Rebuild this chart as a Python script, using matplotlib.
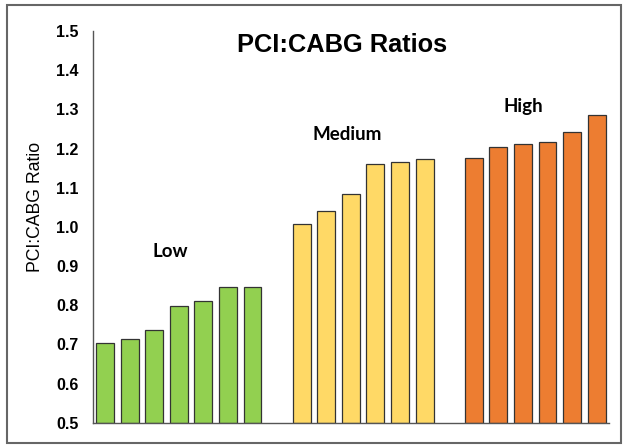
import numpy as np
import matplotlib
matplotlib.use('Agg')
import matplotlib.pyplot as plt
from matplotlib.patches import Rectangle

groups = ['Low', 'Medium', 'High']
low = [0.703, 0.714, 0.738, 0.798, 0.810, 0.847, 0.847]
medium = [1.007, 1.042, 1.084, 1.162, 1.165, 1.173]
high = [1.177, 1.203, 1.211, 1.218, 1.243, 1.287]
colors = ['#92D050', '#FFD966', '#ED7D31']
yticks = [0.5, 0.6, 0.7, 0.8, 0.9, 1.0, 1.1, 1.2, 1.3, 1.4, 1.5]

fig = plt.figure(figsize=(6.25, 4.45), dpi=100)
ax = fig.add_axes([0.1483, 0.050, 0.826, 0.880])

# bars laid out group after group, with one empty slot between groups
start = 0
label_pos = {'Low': (2.64, 0.938), 'Medium': (9.86, 1.236), 'High': (17.0, 1.308)}
for name, vals, c in zip(groups, [low, medium, high], colors):
	x = np.arange(start, start + len(vals))
	ax.bar(x, np.array(vals) - 0.5, bottom=0.5, width=0.73, color=c,
		edgecolor='#333333', linewidth=0.9)
	lx, ly = label_pos[name]
	ax.text(lx, ly, name, ha='center', va='center', fontsize=13.5,
		fontweight='bold', family='Lato')
	start += len(vals) + 1

ax.set_xlim(-0.5, 20.5)
ax.set_ylim(0.5, 1.5)
ax.set_xticks([])
ax.set_yticks(yticks)
ax.set_yticklabels(['%.1f' % v for v in yticks], fontweight='bold',
	fontsize=11.5, family='Liberation Sans')
ax.tick_params(axis='y', length=0, pad=10)
for s in ['top', 'right']:
	ax.spines[s].set_visible(False)
for s in ['left', 'bottom']:
	ax.spines[s].set_color('#555555')
	ax.spines[s].set_linewidth(1.0)

fig.text(0.0563, 0.5355, 'PCI:CABG Ratio', rotation=90, ha='center', va='center',
	fontsize=12.7, family='Liberation Sans')
fig.text(0.547, 0.899, 'PCI:CABG Ratios', ha='center', va='center',
	fontsize=18.3, fontweight='bold', family='Liberation Sans')

# outer frame
fig.patches.append(Rectangle((0.011, 0.004), 0.982, 0.985, transform=fig.transFigure,
	fill=False, edgecolor='#666666', linewidth=1.5))

fig.savefig('out.png', dpi=100)
